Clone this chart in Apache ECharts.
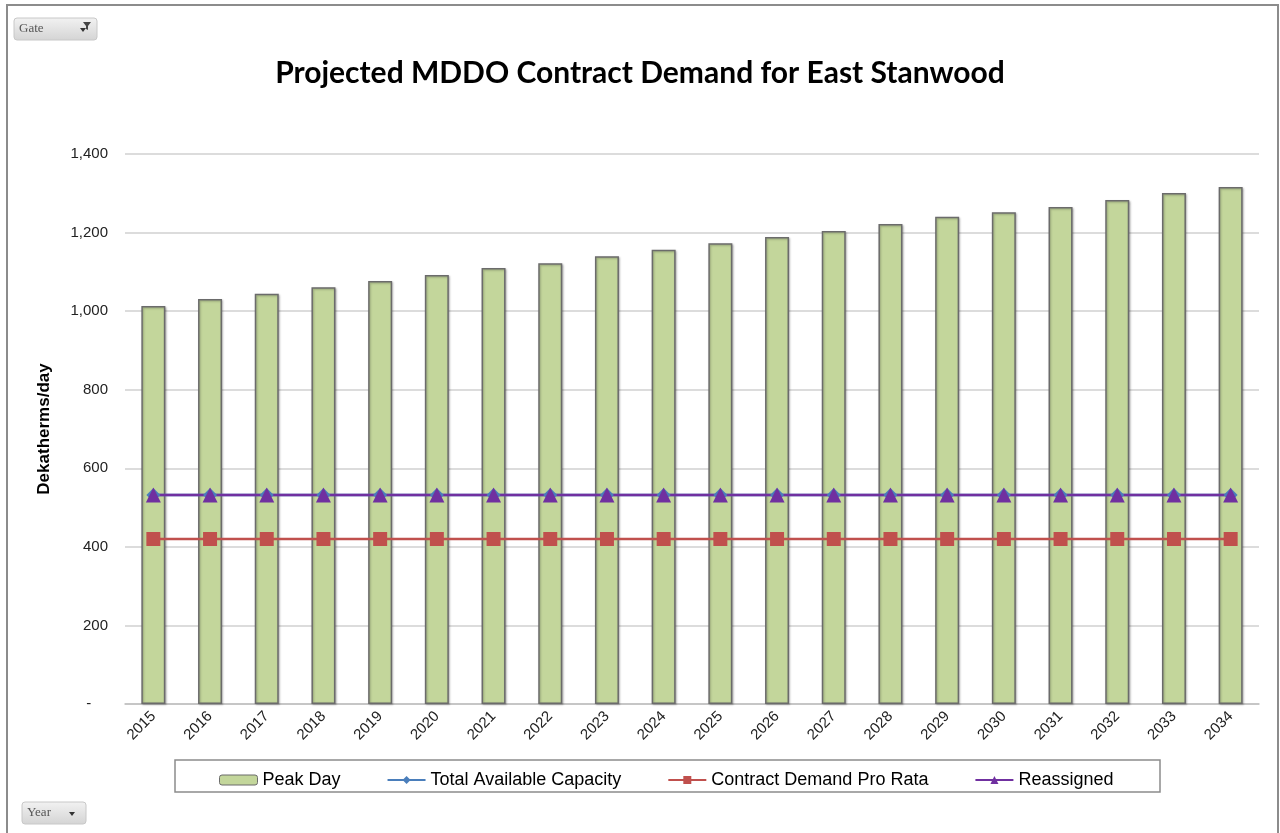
<!DOCTYPE html>
<html>
<head>
<meta charset="utf-8">
<script src="https://cdn.jsdelivr.net/npm/echarts@6/dist/echarts.min.js"></script>
<style>
  html, body { margin: 0; padding: 0; background: #fff; }
  #chart { width: 1280px; height: 833px; }
</style>
</head>
<body>
<div id="chart"></div>
<script>
  // data
  const years = ['2015', '2016', '2017', '2018', '2019', '2020', '2021', '2022', '2023', '2024',
    '2025', '2026', '2027', '2028', '2029', '2030', '2031', '2032', '2033', '2034'];
  const peakDay = [1013, 1031, 1044, 1061, 1077, 1092, 1110, 1122, 1140, 1156,
    1173, 1189, 1204, 1222, 1240, 1252, 1265, 1283, 1301, 1316];
  const totalCapacity = [532, 532, 532, 532, 532, 532, 532, 532, 532, 532,
    532, 532, 532, 532, 532, 532, 532, 532, 532, 532];
  const contractProRata = [420, 420, 420, 420, 420, 420, 420, 420, 420, 420,
    420, 420, 420, 420, 420, 420, 420, 420, 420, 420];
  const reassigned = [532, 532, 532, 532, 532, 532, 532, 532, 532, 532,
    532, 532, 532, 532, 532, 532, 532, 532, 532, 532];

  const myChart = echarts.init(document.getElementById('chart'));

  // little excel pivot buttons
  function pivotButton(x, y, w, label, arrow) {
    const children = [
      {
        type: 'rect',
        shape: { x: 0, y: 0, width: w, height: 22, r: 3 },
        style: {
          fill: new echarts.graphic.LinearGradient(0, 0, 0, 1, [
            { offset: 0, color: '#f2f2f2' }, { offset: 1, color: '#d4d4d4' }
          ]),
          stroke: '#c8c8c8', lineWidth: 1
        }
      },
      {
        type: 'text',
        style: { x: 5, y: 11, text: label, fill: '#555', font: '13px "Liberation Serif"', verticalAlign: 'middle' }
      },
      {
        type: 'polygon',
        shape: { points: [[w - 17, 10], [w - 11, 10], [w - 14, 14]] },
        style: { fill: '#333' }
      }
    ];
    if (arrow) {
      children.push({
        type: 'polygon',
        shape: { points: [[w - 14, 4], [w - 6, 4], [w - 9, 8], [w - 9, 12], [w - 11, 11], [w - 11, 8]] },
        style: { fill: '#444' }
      });
    }
    return { type: 'group', x: x, y: y, children: children };
  }

  const option = {
    animation: false,
    backgroundColor: '#fff',
    title: {
      text: 'Projected MDDO Contract Demand for East Stanwood',
      left: 'center',
      top: 53,
      textStyle: { fontFamily: 'Lato', fontWeight: 'bold', fontSize: 30, color: '#000' }
    },
    graphic: [
      {
        type: 'rect',
        shape: { x: 7, y: 5, width: 1271, height: 840 },
        style: { fill: 'none', stroke: '#8c8c8c', lineWidth: 2 },
        z: -1
      },
      {
        type: 'rect',
        shape: { x: 175, y: 760, width: 985, height: 32 },
        style: { fill: 'none', stroke: '#8c8c8c', lineWidth: 1.5 }
      },
      pivotButton(14, 18, 83, 'Gate', true),
      pivotButton(22, 802, 64, 'Year', false)
    ],
    legend: {
      top: 766,
      left: 214,
      itemGap: 46,
      itemWidth: 38,
      itemHeight: 10,
      textStyle: { fontFamily: 'Liberation Sans', fontSize: 18, color: '#000' },
      data: [
        { name: 'Peak Day', itemStyle: { borderWidth: 1 } },
        'Total Available Capacity', 'Contract Demand Pro Rata', 'Reassigned'
      ]
    },
    grid: { left: 125, right: 21, top: 154, bottom: 129 },
    xAxis: {
      type: 'category',
      data: years,
      axisLine: { lineStyle: { color: '#bfbfbf', width: 1.5 } },
      axisTick: { show: false },
      axisLabel: {
        rotate: 45,
        margin: 10,
        fontFamily: 'Liberation Sans',
        fontSize: 15,
        color: '#222'
      }
    },
    yAxis: {
      type: 'value',
      min: 0,
      max: 1400,
      interval: 200,
      name: 'Dekatherms/day',
      nameLocation: 'middle',
      nameGap: 72,
      nameTextStyle: { fontFamily: 'Liberation Sans', fontWeight: 'bold', fontSize: 17, color: '#000' },
      axisLine: { show: false },
      axisTick: { show: false },
      splitLine: { lineStyle: { color: '#d0d0d0', width: 1.5 } },
      axisLabel: {
        margin: 17,
        fontFamily: 'Liberation Sans',
        fontSize: 15,
        color: '#222',
        formatter: function (v) {
          return v === 0 ? '-    ' : v.toLocaleString('en-US');
        }
      }
    },
    series: [
      {
        name: 'Peak Day',
        type: 'bar',
        data: peakDay,
        barWidth: 24,
        itemStyle: {
          color: '#c3d69b',
          borderColor: '#6b6b6b',
          borderWidth: 1.5,
          shadowColor: 'rgba(0,0,0,0.25)',
          shadowBlur: 2,
          shadowOffsetX: 1,
          shadowOffsetY: 1
        }
      },
      {
        name: 'Total Available Capacity',
        type: 'line',
        data: totalCapacity,
        symbol: 'diamond',
        symbolSize: 14,
        lineStyle: { color: '#4a7ebb', width: 2.5 },
        itemStyle: { color: '#4a7ebb' }
      },
      {
        name: 'Contract Demand Pro Rata',
        type: 'line',
        data: contractProRata,
        symbol: 'rect',
        symbolSize: 14,
        lineStyle: { color: '#c0504d', width: 2.5 },
        itemStyle: { color: '#c0504d' }
      },
      {
        name: 'Reassigned',
        type: 'line',
        data: reassigned,
        symbol: 'triangle',
        symbolSize: 15,
        lineStyle: { color: '#7030a0', width: 2.5 },
        itemStyle: { color: '#7030a0' }
      }
    ]
  };

  myChart.setOption(option);
</script>
</body>
</html>
